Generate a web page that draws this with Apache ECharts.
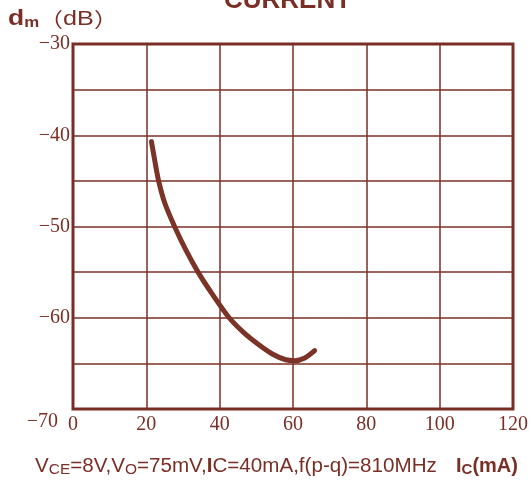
<!DOCTYPE html>
<html><head><meta charset="utf-8">
<script src="https://cdn.jsdelivr.net/npm/echarts@6/dist/echarts.min.js"></script>
<style>html,body{margin:0;padding:0;background:#fff}#c{width:531px;height:483px}</style>
</head><body><div id="c"></div>
<script>
// Curve: intermodulation distortion dm (dB) vs collector current Ic (mA)
const icValues = [21.4, 22.4, 23.35, 25.0, 27.7, 30.8, 34.1, 37.8, 42.6, 46.5, 50.5, 54.5, 58.0, 60.5, 63.2, 65.9];
const dmValues = [-40.7, -43.0, -45.0, -47.4, -50.0, -52.6, -55.0, -57.3, -60.0, -61.6, -62.9, -64.0, -64.6, -64.7, -64.4, -63.6];
const xTicks = [0, 20, 40, 60, 80, 100, 120];
const yTicks = [-70, -60, -50, -40, -30];
const titleText = 'CURRENT';
const brown = '#7a2f26';
const data = icValues.map((x, i) => [x, dmValues[i]]);
const chart = echarts.init(document.getElementById('c'));
chart.setOption({
  backgroundColor: '#fff',
  animation: false,
  grid: { left: 73, right: 16, top: 44, bottom: 74, show: true, borderColor: brown, borderWidth: 3, backgroundColor: 'transparent' },
  xAxis: {
    type: 'value', min: xTicks[0], max: xTicks[xTicks.length - 1], interval: 20,
    axisLine: { show: false }, axisTick: { show: false },
    splitLine: { show: true, lineStyle: { color: brown, width: 1.5 } },
    axisLabel: { color: brown, fontFamily: 'Liberation Serif', fontSize: 20, margin: 6 }
  },
  yAxis: {
    type: 'value', min: yTicks[0], max: yTicks[yTicks.length - 1], interval: 5,
    axisLine: { show: false }, axisTick: { show: false },
    splitLine: { show: true, lineStyle: { color: brown, width: 1.5 } },
    axisLabel: {
      color: brown, fontFamily: 'Liberation Serif', fontSize: 20, margin: 3,
      formatter: function (v) {
        if (!yTicks.includes(v)) return '';
        const s = '\u2212' + Math.abs(v);
        return v === yTicks[0] ? '{low|' + s + '}' : s;
      },
      rich: { low: { color: brown, fontFamily: 'Liberation Serif', fontSize: 20, padding: [26, 12, 0, 0] } }
    }
  },
  series: [{
    type: 'line', data: data, smooth: 0.3, showSymbol: false,
    lineStyle: { color: '#7b3328', width: 5, cap: 'round', join: 'round' }
  }],
  graphic: [
    { type: 'text', left: 224, top: -12, style: { text: titleText, font: 'bold 26px "Liberation Sans"', fill: brown } },
    { type: 'text', x: 8, y: 8, scaleX: 1.2, style: {
        fill: brown,
        text: '{d|d}{m|m}{p|\uFF08}{n|dB}{p|\uFF09}',
        rich: {
          d: { fontWeight: 'bold', fontSize: 22, fontFamily: 'Liberation Sans', fill: brown },
          m: { fontSize: 14, fontFamily: 'Liberation Sans', fill: brown, fontWeight: 'bold', padding: [8, 0, 0, 0] },
          p: { fontSize: 20, fontFamily: 'Noto Sans CJK SC', fill: brown },
          n: { fontSize: 21, fontFamily: 'Liberation Sans', fill: brown }
        } } },
    { type: 'text', x: 35, y: 455, scaleX: 1.03, style: {
        fill: brown,
        text: '{n|V}{s|CE}{n|=8V,V}{s|O}{n|=75mV,}{b|I}{n|C=40mA,f(p-q)=810MHz}',
        rich: {
          n: { fontSize: 20, fontFamily: 'Liberation Sans', fill: brown },
          s: { fontSize: 15, fontFamily: 'Liberation Sans', fill: brown, padding: [7, 0, 0, 0] },
          b: { fontSize: 20, fontFamily: 'Liberation Sans', fontWeight: 'bold', fill: brown }
        } } },
    { type: 'text', x: 456, y: 455, style: {
        fill: brown,
        text: '{b|I}{s|C}{b|(mA)}',
        rich: {
          b: { fontSize: 20, fontFamily: 'Liberation Sans', fontWeight: 'bold', fill: brown },
          s: { fontSize: 15, fontFamily: 'Liberation Sans', fontWeight: 'bold', fill: brown, padding: [7, 0, 0, 0] }
        } } }
  ]
});
</script></body></html>
